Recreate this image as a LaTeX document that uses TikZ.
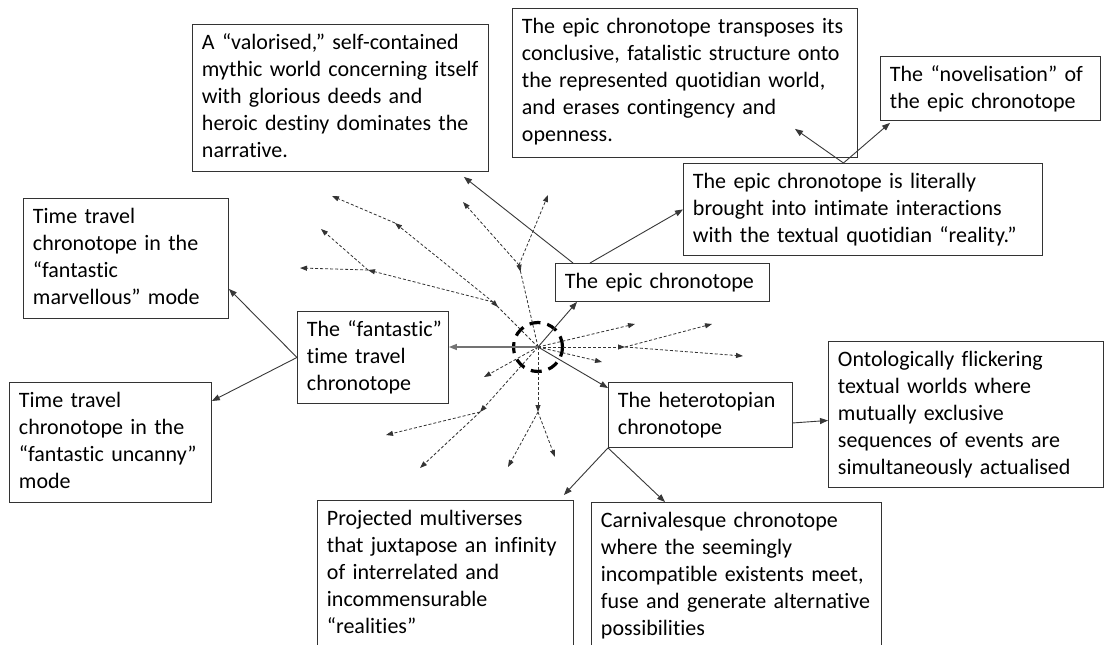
\documentclass[tikz,border=0pt]{standalone}
\usepackage{fontspec}
\setmainfont{Carlito}[Ligatures=NoCommon]
\usetikzlibrary{arrows.meta,calc}
\newcommand\bxl[1]{\begin{tabular}[t]{@{}l@{}}#1\end{tabular}}
\tikzset{
  box/.style={draw=black!80, line width=0.9pt, anchor=north west, inner xsep=9.5pt, inner ysep=0pt,
    text height=25pt, font=\fontsize{22}{27}\selectfont, text=black},
  conn/.style={draw=black!78, line width=0.9pt, -{Triangle[length=8pt,width=6pt]}},
  gconn/.style={draw=black!55, line width=1.4pt, -{Triangle[length=8pt,width=6pt]}},
  dar/.style={draw=black!80, line width=0.8pt, dash pattern=on 3pt off 2pt, -{Triangle[length=7pt,width=5pt]}},
  dark/.style={draw=black!80, line width=0.8pt, dash pattern=on 3pt off 2pt, -{Triangle[reversed,length=7pt,width=5pt]}},
  hubstyle/.style={circle, draw=black, line width=3.2pt, dash pattern=on 11pt off 7pt, minimum size=49pt, inner sep=0pt}
}
\begin{document}
\begin{tikzpicture}[x=1pt,y=-1pt]
\useasboundingbox (0,0) rectangle (1106,645);
\clip (0,0) rectangle (1106,645);
\fill[white] (0,0) rectangle (1106,645);

% boxes
\node[box, text width=277pt, text depth=122pt] (val) at (192,24) {\bxl{A “valorised,” self-contained\\mythic world concerning itself\\with glorious deeds and\\heroic destiny dominates the\\narrative.}};
\node[box, text width=326pt, text depth=124pt] (trans) at (512,8) {\bxl{The epic chronotope transposes its\\conclusive, fatalistic structure onto\\the represented quotidian world,\\and erases contingency and\\openness.}};
\node[box, text width=201pt, text depth=39pt] (novel) at (880,56) {\bxl{The “novelisation” of\\the epic chronotope}};
\node[box, text width=340pt, text depth=67pt] (lit) at (683,163) {\bxl{The epic chronotope is literally\\brought into intimate interactions\\with the textual quotidian “reality.”}};
\node[box, text width=195pt, text depth=13pt] (epic) at (555,263) {\bxl{The epic chronotope}};
\node[box, text width=186pt, text depth=95pt] (marv) at (23,198) {\bxl{Time travel\\chronotope in the\\“fantastic\\marvellous” mode}};
\node[box, text width=132pt, text depth=67pt] (fant) at (297,311) {\bxl{The “fantastic”\\time travel\\chronotope}};
\node[box, text width=183pt, text depth=95pt] (unc) at (9,382) {\bxl{Time travel\\chronotope in the\\“fantastic uncanny”\\mode}};
\node[box, text width=165pt, text depth=40pt] (het) at (608,382) {\bxl{The heterotopian\\chronotope}};
\node[box, text width=256pt, text depth=121pt] (ont) at (828,341) {\bxl{Ontologically flickering\\textual worlds where\\mutually exclusive\\sequences of events are\\simultaneously actualised}};
\node[box, text width=237pt, text depth=170pt] (proj) at (317,500) {\bxl{Projected multiverses\\that juxtapose an infinity\\of interrelated and\\incommensurable\\“realities”}};
\node[box, text width=271pt, text depth=170pt] (carn) at (591,502) {\bxl{Carnivalesque chronotope\\where the seemingly\\incompatible existents meet,\\fuse and generate alternative\\possibilities}};

% hub
\node[hubstyle] (hub) at (538,347) {};

% dashed network points
\coordinate (j1) at (493,302);
\coordinate (a1) at (395,223);
\coordinate (a2) at (332,196);
\coordinate (b1) at (368,270);
\coordinate (b2) at (300,268);
\coordinate (b3) at (321,229);
\coordinate (j2) at (519,265);
\coordinate (c1) at (463,202);
\coordinate (c2) at (548,195);
\coordinate (l1) at (484,377);
\coordinate (j3) at (480,412);
\coordinate (d1) at (420,468);
\coordinate (d2) at (386,435);
\coordinate (j4) at (538,412);
\coordinate (e1) at (508,467);
\coordinate (e2) at (555,457);
\coordinate (r1) at (635,324);
\coordinate (j5) at (625,347);
\coordinate (r3) at (602,362);
\coordinate (f1) at (712,324);
\coordinate (f2) at (743,356);

\draw[dark] (hub.center) -- (j1);
\draw[dar] (j1) -- (a1);
\draw[dar] (a1) -- (a2);
\draw[dar] (j1) -- (b1);
\draw[dar] (b1) -- (b2);
\draw[dar] (b1) -- (b3);
\draw[dark] (hub.center) -- (j2);
\draw[dar] (j2) -- (c1);
\draw[dar] (j2) -- (c2);
\draw[dar] (hub.center) -- (l1);
\draw[dar] (hub.center) -- (j3);
\draw[dar] (j3) -- (d1);
\draw[dar] (j3) -- (d2);
\draw[dar] (hub.center) -- (j4);
\draw[dar] (j4) -- (e1);
\draw[dar] (j4) -- (e2);
\draw[dar] (hub.center) -- (r1);
\draw[dar] (hub.center) -- (j5);
\draw[dar] (hub.center) -- (r3);
\draw[dar] (j5) -- (f1);
\draw[dar] (j5) -- (f2);

% solid connectors
\draw[gconn] (hub.center) -- (hub.center -| fant.east);
\draw[conn] (hub.center) -- ([xshift=22pt]epic.south west);
\draw[conn] (hub.center) -- ([yshift=-6pt]het.north west);
\draw[conn] ([xshift=18pt]epic.north west) -- ([xshift=-25pt,yshift=-5pt]val.south east);
\draw[conn] ([xshift=35pt]epic.north west) -- (lit.west);
\draw[conn] ([xshift=-19.5pt]lit.north) -- ([xshift=110pt,yshift=29pt]trans.south);
\draw[conn] ([xshift=-19.5pt]lit.north) -- ([xshift=10pt,yshift=-2pt]novel.south west);
\draw[conn] (fant.west) -- ([yshift=30pt]marv.south east);
\draw[conn] (fant.west) -- ([yshift=-19pt]unc.north east);
\draw[conn] ([yshift=-8pt]het.east) -- ([yshift=-6pt]ont.west);
\draw[conn] (het.south west) -- ([xshift=-10pt,yshift=5pt]proj.north east);
\draw[conn] (het.south west) -- ([xshift=74pt]carn.north west);
\end{tikzpicture}
\end{document}
